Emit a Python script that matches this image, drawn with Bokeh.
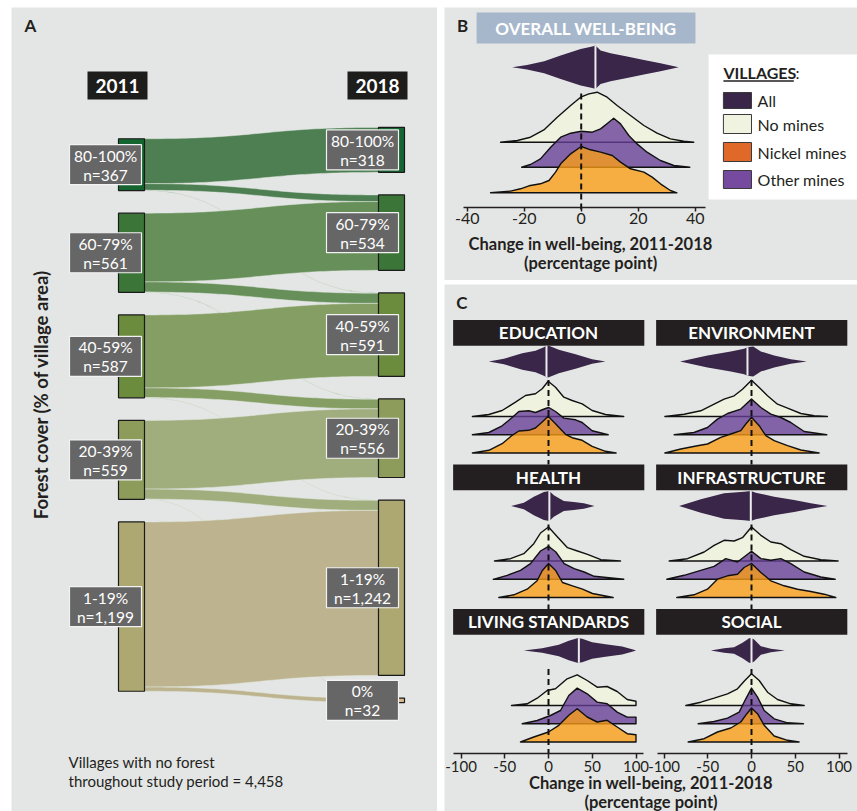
import numpy as np
from bokeh.plotting import figure
from bokeh.models import Range1d, FixedTicker, LinearAxis, Spacer
from bokeh.layouts import row, column
from bokeh.core.properties import value
from bokeh.embed import file_html
from bokeh.resources import INLINE

FONT = "Lato"
INK = "#231f20"
PANEL_BG = "#e4e6e5"

# ---------------- Panel A: forest cover classes, 2011 -> 2018 ----------------
CLASSES_2011 = ["80-100%", "60-79%", "40-59%", "20-39%", "1-19%"]
COUNTS_2011 = [367, 561, 587, 559, 1199]
CLASSES_2018 = ["80-100%", "60-79%", "40-59%", "20-39%", "1-19%", "0%"]
COUNTS_2018 = [318, 534, 591, 556, 1242, 32]
FLOW_SOURCE = [0, 0, 0, 1, 1, 1, 2, 2, 2, 3, 3, 3, 4, 4]
FLOW_TARGET = [0, 1, 2, 1, 2, 3, 2, 3, 4, 3, 4, 5, 4, 5]
FLOW_VALUE = [318, 47, 2, 487, 72, 2, 517, 68, 2, 486, 71, 2, 1169, 30]
NO_FOREST_VILLAGES = 4458

# ---------------- Panel B: overall well-being (percentage points) ----------------
# (change, density) pairs; "ALL" holds the half-width of the violin
OVERALL_MEDIAN = 5.0
OVERALL_ALL = [(-24.2, 0), (-19, 2.3), (-13, 6), (-7.2, 11.7), (-3.7, 15), (-0.2, 18.3),
               (3.9, 20.7), (5, 21.7), (6.8, 16.7), (10.3, 14), (16.1, 10.7), (22, 7.3),
               (27.8, 4), (34.2, 0)]
OVERALL_NO_MINES = [(-28.3, 0), (-22.4, 1.7), (-17.8, 5), (-13.1, 12.3), (-8.4, 25), (-3.7, 36.7),
                    (-0.2, 45), (2.7, 48.3), (5.6, 50), (9.1, 45), (12.6, 36.7), (17.3, 26.7),
                    (22, 16.7), (26.6, 9), (31.3, 3.3), (36, 1), (39.5, 0)]
OVERALL_OTHER_MINES = [(-20.9, 0), (-17.8, 2.7), (-14.3, 8.3), (-10.7, 20), (-7.2, 30), (-3.7, 34),
                       (0, 36), (3.9, 35), (6.8, 38.3), (9.7, 45), (11.4, 49), (13.8, 43.3),
                       (16.7, 31.7), (19.6, 23.3), (23.1, 15), (27.8, 6.7), (32.5, 1.7), (38.1, 0)]
OVERALL_NICKEL_MINES = [(-31.8, 0), (-24.8, 1.7), (-21.3, 4), (-18.3, 7), (-14.3, 9), (-11.3, 12.3),
                        (-9, 20.7), (-7.2, 29), (-3.7, 39), (0, 46.3), (3.3, 43), (6.8, 40.7),
                        (10.9, 37.3), (13.8, 30.7), (17.3, 24), (22, 20.7), (24.9, 15.7),
                        (27.8, 9), (31.3, 2.3), (33.6, 0)]

# ---------------- Panel C: well-being dimensions ----------------
DIMENSIONS = ["EDUCATION", "ENVIRONMENT", "HEALTH", "INFRASTRUCTURE", "LIVING STANDARDS", "SOCIAL"]
DIMENSION_MEDIANS = [-2.3, -4.6, 1.0, -0.8, 34.7, 0.0]

EDUCATION_ALL = [(-68.2, 0), (-51, 2.7), (-30, 8.3), (-14.9, 10.7), (-5.3, 14.3), (-2.3, 15.7),
                 (0.4, 15.7), (11.8, 11.7), (30.9, 7.3), (49.9, 2.3), (65.1, 0)]
EDUCATION_NO_MINES = [(-87, 0), (-68.2, 2), (-53, 6), (-37.7, 14.3), (-26.3, 21), (-14.9, 22.7),
                      (-7.2, 27.7), (-0.4, 35.3), (8, 29.3), (17.5, 19.3), (27, 16), (38.5, 12.7),
                      (49.9, 6), (65.1, 2), (86, 0)]
EDUCATION_OTHER_MINES = [(-87, 0), (-68.2, 2.3), (-53, 9), (-41.5, 17.3), (-33.9, 23.3), (-22.5, 24),
                         (-14.9, 22.3), (-3.4, 26.3), (0.4, 27.3), (8, 23.3), (17.5, 16.7),
                         (30.9, 15), (38.5, 12.3), (49.9, 4), (68.2, 0)]
EDUCATION_NICKEL_MINES = [(-87, 0), (-68.2, 2.7), (-53, 9.3), (-41.5, 17.7), (-33.9, 22), (-22.5, 22.7),
                          (-14.9, 25), (-7.2, 31), (-0.4, 36.7), (8, 29.3), (19.4, 18.7), (27, 15.3),
                          (38.5, 12.7), (49.9, 6.7), (65.1, 1.7), (77.3, 0)]

ENVIRONMENT_ALL = [(-81.6, 0), (-50.3, 6), (-23.7, 10), (-8.4, 12.7), (-4.6, 14.3), (1.9, 15),
                   (10.7, 10), (25.9, 6), (44.9, 2.3), (63.2, 0)]
ENVIRONMENT_NO_MINES = [(-99, 0), (-77, 2.3), (-58, 5.7), (-42.7, 12.3), (-31.3, 17.3), (-19.8, 20.7),
                        (-10.3, 27.3), (0, 36.3), (8.8, 29), (18.3, 20.7), (29.7, 12.3), (41.2, 8.3),
                        (56.4, 3), (71.6, 0.7), (86.8, 0)]
ENVIRONMENT_OTHER_MINES = [(-88.4, 0), (-65.7, 2.3), (-50.3, 7.3), (-38.9, 15.7), (-27.4, 21.3),
                           (-12.2, 25.7), (0, 35.7), (10.7, 27.3), (22.1, 20.7), (33.5, 17.3),
                           (44.9, 12.3), (60.2, 3.3), (86, 0)]
ENVIRONMENT_NICKEL_MINES = [(-99, 0), (-80.8, 4), (-61.8, 7.3), (-50.3, 9), (-35.1, 15.7), (-23.7, 19),
                            (-12.2, 22.3), (-6.5, 29), (0, 35.7), (8.8, 27.3), (16.4, 17.3),
                            (25.9, 12.3), (41.2, 7.3), (56.4, 3), (77.3, 0)]

HEALTH_ALL = [(-42.7, 0), (-28.2, 3.3), (-16.8, 9.3), (-5.3, 14), (1, 15), (6.1, 10.7),
              (17.5, 5), (28.9, 4), (40.4, 2.7), (52.6, 0)]
HEALTH_NO_MINES = [(-61.7, 0), (-43.4, 2.3), (-28.2, 7.3), (-16.8, 17.3), (-9.1, 28), (0, 34),
                   (10.3, 24), (21.7, 13.3), (33.1, 10), (44.6, 6.7), (59.8, 1.3), (82.3, 0)]
HEALTH_OTHER_MINES = [(-63.2, 0), (-47.2, 4), (-32, 9), (-20.6, 15.7), (-9.1, 28.3), (0, 33),
                      (8.4, 27.3), (17.9, 15.7), (29.3, 10.7), (40.8, 7.3), (52.2, 3), (86, 0)]
HEALTH_NICKEL_MINES = [(-56.8, 0), (-39.6, 2.7), (-24.4, 8.3), (-13, 16.7), (-7.2, 26.7), (0, 34),
                       (8.4, 26.7), (16, 15), (27.4, 11.7), (38.9, 8.3), (50.3, 4), (73.9, 0)]

INFRASTRUCTURE_ALL = [(-82.7, 0), (-57.9, 6.7), (-31.3, 12.7), (-8.4, 14.3), (-0.8, 15), (4.9, 13.3),
                      (25.9, 9.3), (48.7, 6), (67.8, 2.7), (86.8, 0)]
INFRASTRUCTURE_NO_MINES = [(-94.1, 0), (-73.2, 2.3), (-54.1, 9), (-42.7, 15.7), (-31.3, 20.7),
                           (-19.8, 20), (-10.3, 23.3), (0, 34), (10.7, 25.7), (22.1, 19),
                           (33.5, 17.3), (44.9, 11.3), (60.2, 4.7), (79.2, 1.3), (99, 0)]
INFRASTRUCTURE_OTHER_MINES = [(-96.8, 0), (-77, 4), (-58, 9), (-42.7, 13), (-29.4, 20.7), (-16, 17.3),
                              (0, 28), (10.7, 20.7), (22.1, 19), (33.5, 20.7), (44.9, 15.7),
                              (60.2, 7.3), (79.2, 2.3), (95.6, 0)]
INFRASTRUCTURE_NICKEL_MINES = [(-85.4, 0), (-65.7, 2.7), (-50.3, 8.3), (-38.9, 18.3), (-27.4, 21.7),
                               (-16, 23.3), (-8.4, 30), (0, 34), (10.7, 25), (22.1, 16.7),
                               (37.3, 11.7), (52.6, 8.3), (67.8, 6), (83, 3.3), (96.3, 0)]

LIVING_STANDARDS_ALL = [(-28.2, 0), (-7.2, 2.3), (11.8, 5.7), (23.2, 9.7), (32.8, 12.3), (34.7, 12.3),
                        (38.5, 11.7), (49.9, 8.3), (65.1, 6.3), (84.2, 4), (97.5, 0.7), (100, 0)]
LIVING_STANDARDS_NO_MINES = [(-42.3, 0), (-24.4, 1.7), (-12.9, 7.3), (-1.5, 15), (8, 16.7),
                             (21.3, 26.7), (32.8, 30.7), (44.2, 25), (55.6, 18.3), (67, 19),
                             (78.5, 14), (89.9, 6), (100, 4.3), (100, 0)]
LIVING_STANDARDS_OTHER_MINES = [(-30.1, 0), (-12.9, 3.3), (2.3, 8.3), (13.7, 13.3), (23.2, 28.3),
                                (32.8, 35.7), (44.2, 30), (55.6, 21.7), (67, 20), (78.5, 11.7),
                                (89.9, 6.7), (100, 6.7), (100, 0)]
LIVING_STANDARDS_NICKEL_MINES = [(-32, 0), (-16.8, 5), (0, 10), (11.8, 16.7), (23.2, 26.7),
                                 (32.8, 33.3), (44.2, 25), (55.6, 20), (67, 21.7), (78.5, 15),
                                 (89.9, 8.3), (100, 7.3), (100, 0)]

SOCIAL_ALL = [(-46.5, 0), (-31.3, 2.3), (-19.9, 3.3), (-10.3, 7.7), (-2.7, 12.3), (0, 12.5),
              (3, 11), (10.7, 4.3), (22.1, 1.7), (38.1, 0)]
SOCIAL_NO_MINES = [(-75.1, 0), (-57.9, 3.3), (-42.7, 7.3), (-27.4, 11.7), (-16, 16.7), (-7.6, 25),
                   (0, 31.7), (8.8, 25), (18.3, 13.3), (29.7, 6), (44.9, 1.7), (60.2, 0)]
SOCIAL_OTHER_MINES = [(-61, 0), (-42.7, 2.3), (-27.4, 5.7), (-14.1, 11.7), (-6.5, 25), (0, 35.7),
                      (6.9, 26.7), (14.5, 13.3), (25.9, 5), (41.2, 1), (59.4, 0)]
SOCIAL_NICKEL_MINES = [(-72.4, 0), (-54.1, 3.3), (-38.9, 10), (-23.7, 14), (-12.2, 20), (-5.3, 28.3),
                       (0, 34), (6.9, 28.3), (14.5, 16.7), (25.9, 6), (41.2, 1.7), (54.4, 0)]

GROUPS = ["All", "No mines", "Nickel mines", "Other mines"]
B_TICKS = [-40, -20, 0, 20, 40]
C_TICKS = [-100, -50, 0, 50, 100]
AXIS_TITLE = ["Change in well-being, 2011-2018", "(percentage point)"]

# ---------------- styles ----------------
NODE_COLORS = ["#14652f", "#3b7638", "#6b8b3d", "#8d9c5a", "#ada872", "#d8b98b"]
FLOW_COLORS = ["#44794a", "#5f8a51", "#7e9a5d", "#9caa77", "#bab18a"]
ALL_COLOR = "#3a2649"
NO_MINES_FILL = "#eff2df"
OTHER_FILL = "#663d97"
NICKEL_FILL = "#fb9e15"
RIDGE_ALPHA = 0.78
LEGEND_COLORS = ["#3a2649", "#f1f3e1", "#e0692a", "#764a9f"]


def bare(p):
    p.grid.visible = False
    p.outline_line_color = None
    p.background_fill_color = PANEL_BG
    p.border_fill_color = PANEL_BG


def txt(p, x, y, s, size, color=INK, bold=False, align="center", angle=0.0, yoff=0, rng="default"):
    p.text(x=[x], y=[y], text=[s], text_font=value(FONT), text_font_size=value(size),
           text_font_style="bold" if bold else "normal", text_color=color,
           text_align=align, text_baseline="middle", angle=angle, y_offset=yoff,
           x_range_name=rng)


def style_axis(ax, ticks, bounds, size, standoff, tick_out):
    ax.ticker = FixedTicker(ticks=ticks)
    ax.major_label_overrides = {v: str(v) for v in ticks}
    ax.bounds = bounds
    ax.axis_line_color = INK
    ax.axis_line_width = 1.5
    ax.major_tick_line_color = INK
    ax.major_tick_line_width = 1.5
    ax.major_tick_out = tick_out
    ax.major_tick_in = 0
    ax.minor_tick_line_color = None
    ax.major_label_standoff = standoff
    ax.major_label_text_font = FONT
    ax.major_label_text_font_size = size
    ax.major_label_text_color = INK


# ====================== Panel A ======================
A_W, A_H = 426, 804
K = 0.1412                 # pixels per village
PAD = 160                  # gap between stacked classes (villages)
CENTER_PX = 407.5
Y_TOP = -CENTER_PX / K
Y_BOT = (A_H - CENTER_PX) / K


def a_y(px):
    return Y_TOP + px / K


def stack(counts):
    total = sum(counts) + PAD * (len(counts) - 1)
    y = -total / 2.0
    tops = []
    for c in counts:
        tops.append(y)
        y += c + PAD
    return np.array(tops)


tops11 = stack(COUNTS_2011)
tops18 = stack(COUNTS_2018)
c11 = np.array(COUNTS_2011, float)
c18 = np.array(COUNTS_2018, float)

XL0, XL1 = 107, 133        # 2011 column
XR0, XR1 = 367, 393        # 2018 column

pA = figure(width=A_W, height=A_H, x_range=Range1d(0, A_W), y_range=Range1d(Y_BOT, Y_TOP),
            x_axis_location=None, y_axis_location=None, toolbar_location=None,
            output_backend="svg", min_border=0)
bare(pA)

out_off = np.zeros(len(COUNTS_2011))
in_off = np.zeros(len(COUNTS_2018))
t = np.linspace(0, 1, 60)
xm = (XL1 + XR0) / 2.0
bx = XL1 * (1 - t) ** 3 + 3 * xm * (1 - t) ** 2 * t + 3 * xm * (1 - t) * t ** 2 + XR0 * t ** 3
sm = 3 * t ** 2 - 2 * t ** 3
fxs, fys, fcol = [], [], []
for s, d, v in zip(FLOW_SOURCE, FLOW_TARGET, FLOW_VALUE):
    y0 = tops11[s] + out_off[s]
    y1 = tops18[d] + in_off[d]
    out_off[s] += v
    in_off[d] += v
    top = y0 + (y1 - y0) * sm
    fxs.append(np.concatenate([bx, bx[::-1]]))
    fys.append(np.concatenate([top, (top + v)[::-1]]))
    fcol.append(FLOW_COLORS[s])
pA.patches(xs=fxs, ys=fys, fill_color=fcol, fill_alpha=0.95,
           line_color="#e2e8df", line_width=0.6, line_alpha=0.8)

pA.quad(left=XL0, right=XL1, top=tops11, bottom=tops11 + c11,
        fill_color=NODE_COLORS[:5], line_color="#1a1a1a", line_width=1.2)
pA.quad(left=XR0, right=XR1, top=tops18, bottom=tops18 + c18,
        fill_color=NODE_COLORS, line_color="#1a1a1a", line_width=1.2)

for xc, tops, cnts, names in [(94, tops11, c11, CLASSES_2011), (351, tops18, c18, CLASSES_2018)]:
    mids = tops + cnts / 2.0
    pA.rect(x=[xc] * len(mids), y=mids, width=72, height=40, width_units="screen",
            height_units="screen", fill_color="#666666", line_color="#f2f2f2", line_width=1.2)
    for m, n, c in zip(mids, names, cnts):
        txt(pA, xc, m, n, "15.5px", color="white", yoff=-9)
        txt(pA, xc, m, "n={:,}".format(int(c)), "15.5px", color="white", yoff=10)

for xc, yr in [(106, "2011"), (366, "2018")]:
    pA.rect(x=[xc], y=[a_y(78)], width=60, height=28, width_units="screen",
            height_units="screen", fill_color="#1d1d1b", line_color=None)
    txt(pA, xc, a_y(78), yr, "19px", color="white", bold=True)

txt(pA, 19, a_y(18), "A", "17px", bold=True)
txt(pA, 29.7, a_y(387), "Forest cover (% of village area)", "18.5px", bold=True, angle=np.pi / 2)
txt(pA, 57, a_y(754), "Villages with no forest", "15px", align="left")
txt(pA, 57, a_y(773), "throughout study period = {:,}".format(NO_FOREST_VILLAGES), "15px", align="left")


# ====================== shared ridge drawing ======================
def arr(pts):
    xs = np.array([q[0] for q in pts], float)
    hs = np.array([q[1] for q in pts], float)
    return xs, hs


def violin(p, pts, center, med, rng="default"):
    xs, hs = arr(pts)
    p.patch(np.concatenate([xs, xs[::-1]]), np.concatenate([center + hs, (center - hs)[::-1]]),
            fill_color=ALL_COLOR, line_color=None, x_range_name=rng)
    hm = float(np.interp(med, xs, hs))
    p.segment(x0=[med], x1=[med], y0=[center - hm], y1=[center + hm],
              line_color="#ececec", line_width=2, x_range_name=rng)


def ridge(p, pts, base, color, alpha, rng="default"):
    xs, hs = arr(pts)
    p.patch(np.concatenate([xs, xs[::-1]]), np.concatenate([base + hs, np.full(len(xs), base)]),
            fill_color=color, fill_alpha=alpha, line_color="#111111", line_width=1.4,
            line_join="round", x_range_name=rng)


def dashed(p, y0, y1, rng="default"):
    p.segment(x0=[0], x1=[0], y0=[y0], y1=[y1], line_color="#111111", line_width=2,
              line_dash="6 4", x_range_name=rng)


# ====================== Panel B ======================
B_W, B_H = 413, 273
B_AXIS_PX = 200                   # axis line, pixels below the top of the panel
B_PX = 2.85                       # pixels per percentage point
B_X0 = -136.7 / B_PX
B_X1 = B_X0 + B_W / B_PX

pB = figure(width=B_W, height=B_H, x_range=Range1d(B_X0, B_X1),
            y_range=Range1d(B_AXIS_PX - B_H, B_AXIS_PX),
            x_axis_location=None, y_axis_location=None, toolbar_location=None,
            output_backend="svg", min_border=0)
bare(pB)
axB = LinearAxis(fixed_location=0)
style_axis(axB, B_TICKS, (-41.3, 43.6), "16px", 1, 4)
pB.add_layout(axB, "below")

# title box
pB.quad(left=-36.7, right=40.1, bottom=164, top=195, fill_color="#a7b7cb", line_color=None)
txt(pB, 1.7, 179.5, "OVERALL WELL-BEING", "17px", color="white", bold=True)
txt(pB, -41.6, 182, "B", "17px", bold=True)

violin(pB, OVERALL_ALL, 140.3, OVERALL_MEDIAN)
ridge(pB, OVERALL_NO_MINES, 65.3, NO_MINES_FILL, 1.0)
ridge(pB, OVERALL_OTHER_MINES, 40.3, OTHER_FILL, RIDGE_ALPHA)
ridge(pB, OVERALL_NICKEL_MINES, 14.7, NICKEL_FILL, RIDGE_ALPHA)
dashed(pB, 114, -3)

# legend
pB.quad(left=44.7, right=B_X1 + 1, bottom=8, top=153, fill_color="white", line_color=None)
txt(pB, 49.9, 135, "VILLAGES", "16px", bold=True, align="left")
pB.segment(x0=[49.9], x1=[74.6], y0=[126.5], y1=[126.5], line_color=INK, line_width=1.3)
txt(pB, 75.2, 135, ":", "16px", align="left")
sw_top = [115, 93, 65, 37]
sw_bot = [99, 74, 46, 19]
pB.quad(left=49.9, right=59.75, top=sw_top, bottom=sw_bot, fill_color=LEGEND_COLORS,
        line_color="#3a3a3a", line_width=1)
for g, a, b in zip(GROUPS, sw_top, sw_bot):
    txt(pB, 61.9, (a + b) / 2.0, g, "16px", align="left")

txt(pB, 3.3, -36, AXIS_TITLE[0], "16.5px", bold=True)
txt(pB, 3.3, -55, AXIS_TITLE[1], "16.5px", bold=True)

# ====================== Panel C ======================
C_W, C_H = 413, 527
C_AXIS_PX = 469                   # axis line, pixels below the top of the panel
C_PX = 0.875                      # pixels per percentage point
C_X0 = -104.0 / C_PX
C_X1 = C_X0 + C_W / C_PX
OFF = 232                         # right-hand column origin, in left-column units
S = 144.5                         # facet height

pC = figure(width=C_W, height=C_H, x_range=Range1d(C_X0, C_X1),
            y_range=Range1d(C_AXIS_PX - C_H, C_AXIS_PX),
            x_axis_location=None, y_axis_location=None, toolbar_location=None,
            output_backend="svg", min_border=0)
pC.extra_x_ranges = {"right": Range1d(C_X0 - OFF, C_X1 - OFF)}
bare(pC)
axL = LinearAxis(fixed_location=0)
style_axis(axL, C_TICKS, (-109, 109), "15px", 2, 5)
pC.add_layout(axL, "below")
axR = LinearAxis(fixed_location=0, x_range_name="right")
style_axis(axR, C_TICKS, (-108, 110), "15px", 2, 5)
pC.add_layout(axR, "below")

txt(pC, -98.9, 451, "C", "17px", bold=True)

facet_data = {
    "EDUCATION": (EDUCATION_ALL, EDUCATION_NO_MINES, EDUCATION_OTHER_MINES, EDUCATION_NICKEL_MINES),
    "ENVIRONMENT": (ENVIRONMENT_ALL, ENVIRONMENT_NO_MINES, ENVIRONMENT_OTHER_MINES, ENVIRONMENT_NICKEL_MINES),
    "HEALTH": (HEALTH_ALL, HEALTH_NO_MINES, HEALTH_OTHER_MINES, HEALTH_NICKEL_MINES),
    "INFRASTRUCTURE": (INFRASTRUCTURE_ALL, INFRASTRUCTURE_NO_MINES, INFRASTRUCTURE_OTHER_MINES,
                       INFRASTRUCTURE_NICKEL_MINES),
    "LIVING STANDARDS": (LIVING_STANDARDS_ALL, LIVING_STANDARDS_NO_MINES, LIVING_STANDARDS_OTHER_MINES,
                         LIVING_STANDARDS_NICKEL_MINES),
    "SOCIAL": (SOCIAL_ALL, SOCIAL_NO_MINES, SOCIAL_OTHER_MINES, SOCIAL_NICKEL_MINES),
}

for i, name in enumerate(DIMENSIONS):
    rng = "default" if i % 2 == 0 else "right"
    b = (2 - i // 2) * S
    all_pts, none_pts, other_pts, nickel_pts = facet_data[name]
    pC.quad(left=-109, right=109.5, bottom=b + S - 25.7, top=b + S,
            fill_color=INK, line_color=None, x_range_name=rng)
    txt(pC, 0, b + S - 12.85, name, "17px", color="white", bold=True, rng=rng)
    violin(pC, all_pts, b + 103, DIMENSION_MEDIANS[i], rng)
    ridge(pC, none_pts, b + 48, NO_MINES_FILL, 1.0, rng)
    ridge(pC, other_pts, b + 29.7, OTHER_FILL, RIDGE_ALPHA, rng)
    ridge(pC, nickel_pts, b + 11.5, NICKEL_FILL, RIDGE_ALPHA, rng)
    dashed(pC, b + 84.5, b, rng)

xc_mid = (C_X0 + C_X1) / 2.0
txt(pC, xc_mid, -29.7, AXIS_TITLE[0], "16.5px", bold=True)
txt(pC, xc_mid, -48.7, AXIS_TITLE[1], "16.5px", bold=True)

layout = row(
    Spacer(width=11, height=811),
    column(Spacer(width=A_W, height=7), pA),
    Spacer(width=7, height=811),
    column(Spacer(width=B_W, height=7), pB, Spacer(width=B_W, height=4), pC),
)

open("out.html", "w").write(file_html(layout, INLINE, title="Forest cover and village well-being"))
